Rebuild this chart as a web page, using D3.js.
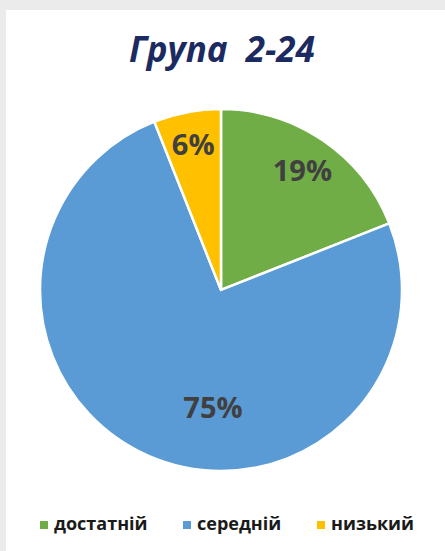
<!DOCTYPE html>
<html lang="uk">
<head>
<meta charset="UTF-8">
<script src="https://d3js.org/d3.v7.min.js"></script>
<style>
  body { margin: 0; background: #ebebeb; }
  svg { display: block; }
  text { font-family: "Open Sans", "Noto Sans", sans-serif; white-space: pre; }
</style>
</head>
<body>
<script>
var categories = ["достатній", "середній", "низький"];
var values = [19, 75, 6];
var colors = ["#70ad47", "#5b9bd5", "#ffc000"];
var title = "Група  2-24";

var width = 445, height = 551;
var cx = 221, cy = 290, r = 181;

// label placement like excel "best fit": radius fraction + angle nudge (deg)
var labelR = [0.8, 0.65, 0.82];
var labelShift = [0, -19.5, 0];

var svg = d3.select("body").append("svg")
    .attr("width", width)
    .attr("height", height);

// white card inside the grey frame
svg.append("rect")
    .attr("x", 6).attr("y", 10)
    .attr("width", width - 6).attr("height", height - 10)
    .attr("fill", "#fff");

svg.append("text")
    .attr("x", 222).attr("y", 62)
    .attr("text-anchor", "middle")
    .attr("font-size", 35)
    .attr("font-weight", "bold")
    .attr("font-style", "italic")
    .attr("fill", "#1c2a62")
    .text(title);

var pie = d3.pie().sort(null).value(function(d) { return d; });
var arcs = pie(values);
var arc = d3.arc().innerRadius(0).outerRadius(r);

var g = svg.append("g").attr("transform", "translate(" + cx + "," + cy + ")");

g.selectAll("path").data(arcs).enter().append("path")
    .attr("d", arc)
    .attr("fill", function(d, i) { return colors[i]; })
    .attr("stroke", "#fff")
    .attr("stroke-width", 2.5);

g.selectAll("text.lbl").data(arcs).enter().append("text")
    .attr("class", "lbl")
    .attr("transform", function(d, i) {
        var a = (d.startAngle + d.endAngle) / 2 + labelShift[i] * Math.PI / 180;
        var rr = r * labelR[i];
        return "translate(" + (Math.sin(a) * rr) + "," + (-Math.cos(a) * rr) + ")";
    })
    .attr("dy", "0.36em")
    .attr("text-anchor", "middle")
    .attr("font-size", 29)
    .attr("font-weight", "bold")
    .attr("fill", "#404040")
    .text(function(d) { return d.data + "%"; });

// legend
var legendX = [40, 183, 317];
var lg = svg.selectAll("g.leg").data(categories).enter().append("g")
    .attr("class", "leg")
    .attr("transform", function(d, i) { return "translate(" + legendX[i] + ",525)"; });
lg.append("rect")
    .attr("x", 0).attr("y", -4)
    .attr("width", 8).attr("height", 8)
    .attr("fill", function(d, i) { return colors[i]; });
lg.append("text")
    .attr("x", 14).attr("y", 0)
    .attr("dy", "0.3em")
    .attr("font-size", 18)
    .attr("font-weight", "bold")
    .attr("fill", "#1a1a1a")
    .text(function(d) { return d; });
</script>
</body>
</html>
